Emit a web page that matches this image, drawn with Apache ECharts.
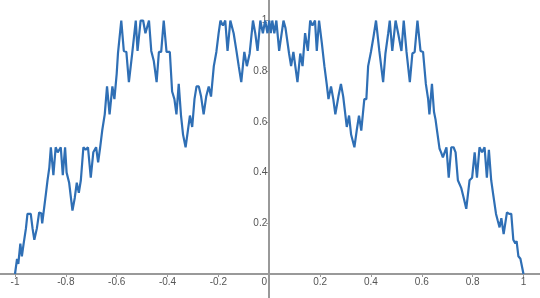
<!DOCTYPE html>
<html>
<head>
<meta charset="utf-8">
<script src="https://cdn.jsdelivr.net/npm/echarts@6/dist/echarts.min.js"></script>
<style>
html,body{margin:0;padding:0;background:#fff;}
#c{width:540px;height:298px;}
</style>
</head>
<body>
<div id="c"></div>
<script>
const xTicksLeft = [-1, -0.8, -0.6, -0.4, -0.2];
const xTicksRight = [0, 0.2, 0.4, 0.6, 0.8, 1];
const yTicks = [0.2, 0.4, 0.6, 0.8, 1];

const xs = [
-1.000,-0.992,-0.987,-0.979,-0.973,-0.966,-0.957,-0.951,-0.944,-0.938,-0.931,-0.924,-0.914,-0.905,-0.897,-0.893,
-0.878,-0.872,-0.865,-0.859,-0.849,-0.840,-0.832,-0.820,-0.812,-0.803,-0.797,-0.787,-0.774,-0.765,-0.757,-0.749,
-0.741,-0.731,-0.722,-0.713,-0.702,-0.692,-0.681,-0.673,-0.665,-0.657,-0.647,-0.638,-0.628,-0.617,-0.609,-0.600,
-0.595,-0.582,-0.572,-0.562,-0.552,-0.539,-0.525,-0.518,-0.506,-0.496,-0.487,-0.473,-0.464,-0.454,-0.443,-0.434,
-0.425,-0.415,-0.404,-0.391,-0.382,-0.373,-0.365,-0.356,-0.347,-0.339,-0.329,-0.320,-0.312,-0.303,-0.294,-0.286,
-0.277,-0.268,-0.258,-0.248,-0.238,-0.229,-0.218,-0.208,-0.199,-0.192,-0.182,-0.173,-0.164,-0.153,-0.140,-0.129,
-0.120,-0.110,-0.098,-0.088,-0.077,-0.064,-0.055,-0.046,-0.035,-0.025,-0.016,-0.007,0.000,
0.006,0.012,0.020,0.028,0.039,0.056,0.064,0.078,0.086,0.095,0.111,0.122,0.131,0.141,0.152,0.161,
0.170,0.180,0.187,0.196,0.207,0.217,0.226,0.233,0.243,0.252,0.260,0.272,0.282,0.291,0.305,0.314,
0.322,0.335,0.344,0.353,0.362,0.374,0.382,0.389,0.400,0.410,0.420,0.433,0.448,0.457,0.468,0.474,
0.484,0.497,0.507,0.520,0.529,0.540,0.553,0.563,0.572,0.583,0.595,0.605,0.616,0.625,0.630,0.640,
0.648,0.654,0.660,0.670,0.676,0.683,0.697,0.706,0.716,0.725,0.733,0.742,0.755,0.765,0.775,0.788,
0.798,0.808,0.817,0.827,0.837,0.847,0.856,0.864,0.873,0.880,0.892,0.899,0.906,0.913,0.922,0.935,
0.944,0.952,0.960,0.968,0.973,0.980,0.988,1.000
];

const ys = [
0.00,0.06,0.04,0.12,0.07,0.12,0.18,0.237,0.243,0.237,0.18,0.135,0.18,0.243,0.24,0.20,
0.32,0.37,0.42,0.50,0.39,0.50,0.48,0.50,0.39,0.50,0.40,0.36,0.25,0.30,0.36,0.32,
0.37,0.50,0.49,0.50,0.38,0.48,0.50,0.44,0.50,0.566,0.63,0.74,0.63,0.74,0.69,0.79,
0.87,1.00,0.88,0.876,0.757,0.87,1.00,0.88,1.00,1.00,0.95,1.00,0.88,0.84,0.757,0.876,
0.876,1.00,0.876,0.876,0.72,0.69,0.63,0.75,0.625,0.55,0.50,0.566,0.625,0.58,0.69,0.74,
0.74,0.70,0.63,0.70,0.74,0.70,0.82,0.876,0.95,1.00,0.98,1.00,0.88,1.00,0.95,0.88,
0.82,0.757,0.876,0.82,0.87,1.00,0.95,0.88,1.00,0.95,1.00,0.95,1.00,
0.95,1.00,0.95,1.00,0.88,1.00,0.97,0.87,0.82,0.876,0.757,0.87,0.82,0.95,0.88,1.00,
0.98,1.00,0.88,1.00,0.91,0.82,0.75,0.69,0.74,0.69,0.63,0.70,0.75,0.70,0.58,0.625,
0.55,0.50,0.566,0.625,0.566,0.69,0.69,0.82,0.876,0.935,1.00,0.88,0.757,0.87,0.95,1.00,
0.88,1.00,0.95,0.88,1.00,0.876,0.757,0.87,0.876,1.00,0.88,0.876,0.75,0.69,0.63,0.75,
0.64,0.61,0.566,0.494,0.48,0.46,0.50,0.38,0.50,0.50,0.48,0.37,0.34,0.30,0.257,0.37,
0.38,0.48,0.38,0.50,0.48,0.50,0.38,0.49,0.37,0.32,0.237,0.21,0.184,0.22,0.157,0.243,
0.237,0.237,0.135,0.12,0.13,0.07,0.06,0.00
];

const points = xs.map((x, i) => [x, ys[i]]);
const leftData = points.filter(p => p[0] <= 0);
const rightData = points.filter(p => p[0] >= 0);

const X_MIN = -1.059, X_MAX = 1.065, Y_MAX = 1.081;
const W = 540, H = 298, BOTTOM = 24;
const zeroPx = W * (0 - X_MIN) / (X_MAX - X_MIN);

const axisColor = '#999';
const labelColor = '#555';
const fmt = v => String(Math.round(v * 10) / 10);
const labelBase = {color: labelColor, fontSize: 10, fontFamily: 'Liberation Sans, Arial, sans-serif'};
const lineStyle = {color: axisColor, width: 2};

const chart = echarts.init(document.getElementById('c'), null, {renderer: 'canvas'});
chart.setOption({
  animation: false,
  grid: [
    {left: 0, width: zeroPx, top: 0, bottom: BOTTOM, containLabel: false, outerBoundsMode: 'none'},
    {left: zeroPx, right: 0, top: 0, bottom: BOTTOM, containLabel: false, outerBoundsMode: 'none'},
    {left: zeroPx, right: 0, top: H - BOTTOM, bottom: 0, containLabel: false, outerBoundsMode: 'none'}
  ],
  xAxis: [
    {
      type: 'value', gridIndex: 0, min: X_MIN, max: 0,
      axisLine: {show: true, onZero: false, lineStyle},
      axisTick: {show: true, length: 3, customValues: xTicksLeft, lineStyle: {color: axisColor}},
      axisLabel: Object.assign({customValues: xTicksLeft, margin: 3, formatter: fmt}, labelBase),
      splitLine: {show: false}
    },
    {
      type: 'value', gridIndex: 1, min: 0, max: X_MAX,
      axisLine: {show: true, onZero: false, lineStyle},
      axisTick: {show: true, length: 3, customValues: xTicksRight, lineStyle: {color: axisColor}},
      axisLabel: Object.assign({
        customValues: xTicksRight, margin: 3,
        formatter: v => (Math.abs(v) < 1e-9 ? '{z|0}' : fmt(v)),
        rich: {z: {padding: [0, 10, 0, 0], fontSize: 10, color: labelColor}}
      }, labelBase),
      splitLine: {show: false}
    },
    {
      type: 'value', gridIndex: 2, min: 0, max: X_MAX, show: false
    }
  ],
  yAxis: [
    {
      type: 'value', gridIndex: 0, min: 0, max: Y_MAX, show: false
    },
    {
      type: 'value', gridIndex: 1, min: 0, max: Y_MAX, position: 'left',
      axisLine: {show: true, onZero: false, lineStyle},
      axisTick: {show: true, length: 3, customValues: yTicks, lineStyle: {color: axisColor}},
      axisLabel: Object.assign({customValues: yTicks, margin: 2, formatter: fmt}, labelBase),
      splitLine: {show: false}
    },
    {
      type: 'value', gridIndex: 2, min: 0, max: 1, position: 'left',
      axisLine: {show: true, onZero: false, lineStyle},
      axisTick: {show: false}, axisLabel: {show: false}, splitLine: {show: false}
    }
  ],
  series: [
    {
      type: 'line', xAxisIndex: 0, yAxisIndex: 0, data: leftData,
      showSymbol: false, symbol: 'none', clip: false,
      lineStyle: {color: '#2f6fb5', width: 2.2}, z: 3
    },
    {
      type: 'line', xAxisIndex: 1, yAxisIndex: 1, data: rightData,
      showSymbol: false, symbol: 'none', clip: false,
      lineStyle: {color: '#2f6fb5', width: 2.2}, z: 3
    }
  ]
});
</script>
</body>
</html>
